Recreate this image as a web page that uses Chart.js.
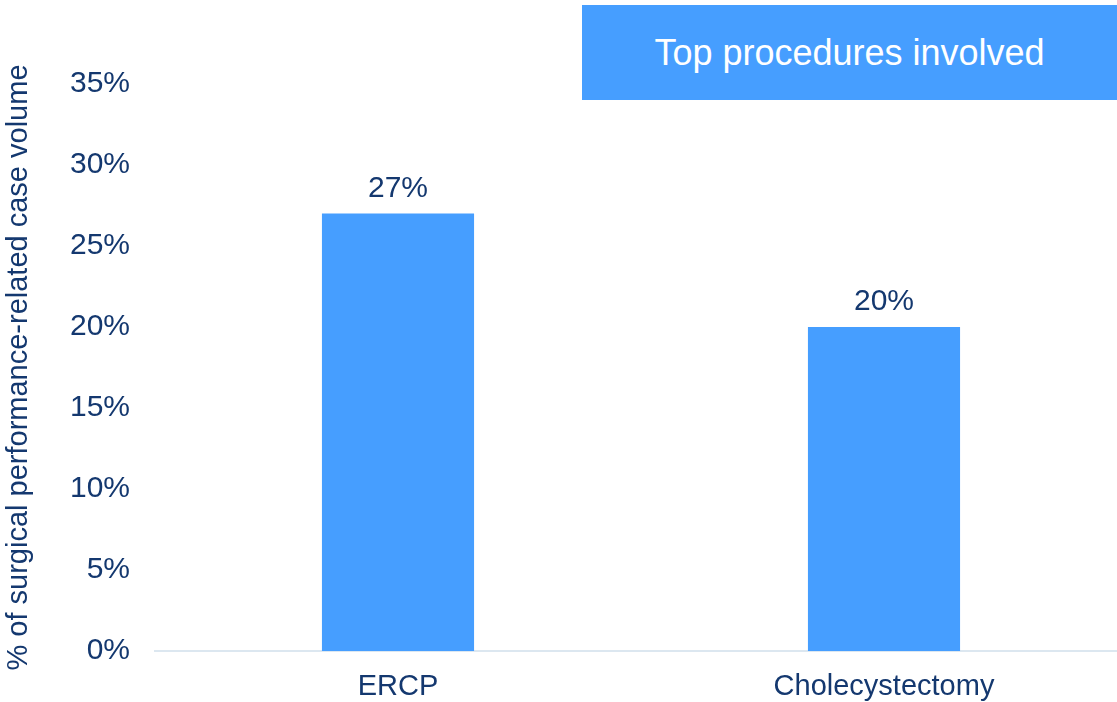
<!DOCTYPE html>
<html>
<head>
<meta charset="utf-8">
<script src="https://cdn.jsdelivr.net/npm/chart.js@4/dist/chart.umd.min.js"></script>
<style>
  html, body { margin: 0; padding: 0; background: #ffffff; overflow: hidden; }
  #wrap { position: relative; width: 1117px; height: 702px; overflow: hidden; }
  #box { position: absolute; left: 0; top: 0; width: 1127px; height: 702px; }
  #banner {
    position: absolute; left: 582px; top: 5px; width: 535px; height: 95px;
    background: #469EFF; color: #ffffff;
    font-family: "Liberation Sans", Arial, sans-serif; font-size: 36px;
    display: flex; align-items: center; justify-content: center;
  }
</style>
</head>
<body>
<div id="wrap">
  <div id="box"><canvas id="c"></canvas></div>
  <div id="banner">Top procedures involved</div>
</div>
<script>
const categories = ["ERCP", "Cholecystectomy"];
const shares = [27, 20];
const axisTitle = "% of surgical performance-related case volume";

const navy = "#14386F";
const barBlue = "#469EFF";
const fontFamily = "'Liberation Sans', Arial, sans-serif";

// Writes each bar's value just above it
const valueLabels = {
  id: "valueLabels",
  afterDatasetsDraw(chart) {
    const ctx = chart.ctx;
    const meta = chart.getDatasetMeta(0);
    ctx.save();
    ctx.fillStyle = navy;
    ctx.font = "30px " + fontFamily;
    ctx.textAlign = "center";
    ctx.textBaseline = "bottom";
    meta.data.forEach((bar, i) => {
      ctx.fillText(chart.data.datasets[0].data[i] + "%", bar.x, bar.y - 10);
    });
    ctx.restore();
  }
};

new Chart(document.getElementById("c"), {
  type: "bar",
  data: {
    labels: categories,
    datasets: [{
      data: shares,
      backgroundColor: barBlue,
      borderWidth: 0,
      categoryPercentage: 1.0,
      barPercentage: 0.313
    }]
  },
  options: {
    responsive: true,
    maintainAspectRatio: false,
    animation: false,
    layout: { padding: { top: 84, right: 0, bottom: 0, left: 0 } },
    plugins: { legend: { display: false }, tooltip: { enabled: false } },
    scales: {
      x: {
        grid: { display: false, drawTicks: false },
        border: { display: true, color: "#DCE7F0", width: 2 },
        ticks: { color: navy, font: { family: fontFamily, size: 29 }, padding: 19 },
        afterFit(scale) { scale.height = 51; }
      },
      y: {
        min: 0, max: 35,
        grid: { display: false, drawTicks: false },
        border: { display: false },
        ticks: {
          stepSize: 5, color: navy, padding: 25,
          font: { family: fontFamily, size: 30 },
          callback: v => v + "%"
        },
        title: {
          display: true, text: axisTitle, color: navy,
          font: { family: fontFamily, size: 29 },
          padding: { top: 2, bottom: 0 }
        },
        afterFit(scale) { scale.width = 155; }
      }
    }
  },
  plugins: [valueLabels]
});
</script>
</body>
</html>
